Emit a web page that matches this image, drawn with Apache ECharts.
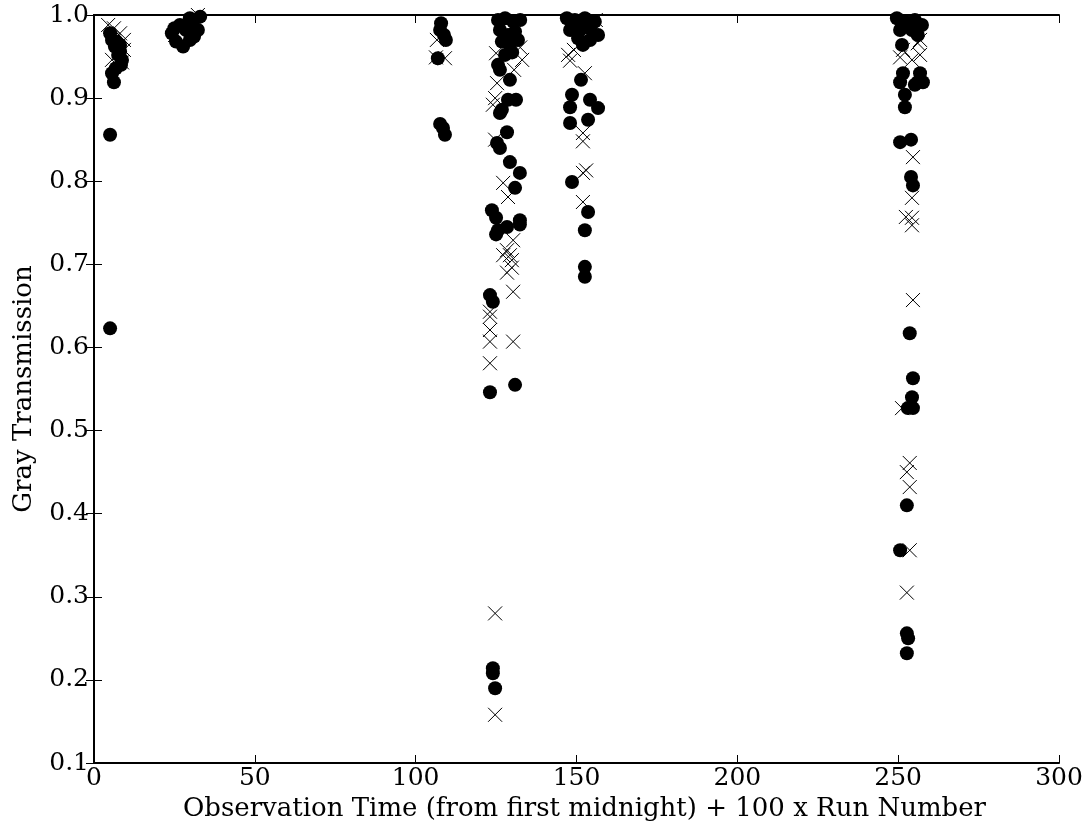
<!DOCTYPE html>
<html>
<head>
<meta charset="utf-8">
<script src="https://cdn.jsdelivr.net/npm/echarts@6/dist/echarts.min.js"></script>
<style>html,body{margin:0;padding:0;background:#fff}#c{width:1091px;height:828px}</style>
</head>
<body>
<div id="c"></div>
<script>
var xTicks = [0, 50, 100, 150, 200, 250, 300];
var yTicks = [0.1, 0.2, 0.3, 0.4, 0.5, 0.6, 0.7, 0.8, 0.9, 1.0];

var circles = [
  [5.0,0.978],[5.6,0.970],[6.5,0.962],[8.1,0.964],[7.5,0.952],[8.7,0.946],[6.8,0.936],[8.1,0.956],
  [5.6,0.930],[6.2,0.919],[5.0,0.856],[5.0,0.623],[7.0,0.968],[8.4,0.940],
  [24.2,0.978],[25.5,0.968],[27.7,0.962],[29.8,0.970],[28.6,0.982],[30.8,0.992],[32.3,0.982],
  [29.8,0.996],[33.0,0.998],[26.7,0.988],[31.1,0.974],[25.0,0.984],
  [107.9,0.990],[107.6,0.982],[108.8,0.976],[109.4,0.970],[106.9,0.948],[107.6,0.869],[108.5,0.864],[109.1,0.856],
  [125.6,0.994],[127.8,0.996],[130.3,0.992],[132.5,0.994],[126.2,0.982],[128.7,0.976],[130.9,0.980],
  [126.8,0.968],[129.3,0.964],[131.8,0.970],[127.8,0.952],[130.0,0.955],[125.6,0.940],[126.2,0.934],
  [129.3,0.922],[131.2,0.898],[128.7,0.898],[126.8,0.886],[126.2,0.882],[128.4,0.859],[125.3,0.846],
  [126.2,0.840],[129.3,0.823],[132.4,0.810],[130.9,0.792],[123.7,0.765],[125.0,0.756],[125.6,0.741],
  [125.0,0.736],[128.4,0.745],[132.4,0.753],[132.4,0.748],[123.1,0.663],[124.0,0.655],[123.1,0.546],
  [130.9,0.555],[124.0,0.214],[124.0,0.208],[124.7,0.190],
  [147.0,0.996],[149.5,0.994],[152.6,0.996],[155.7,0.992],[148.0,0.982],[151.1,0.982],[154.2,0.984],
  [156.7,0.976],[152.0,0.964],[154.2,0.970],[150.5,0.972],[151.4,0.922],[148.6,0.904],[148.0,0.889],
  [154.2,0.898],[156.7,0.888],[153.6,0.874],[148.0,0.870],[148.6,0.799],[153.6,0.763],[152.6,0.741],
  [152.6,0.697],[152.6,0.685],
  [249.6,0.996],[252.1,0.992],[255.2,0.994],[257.4,0.988],[250.6,0.982],[254.3,0.982],[256.1,0.976],
  [251.2,0.964],[251.5,0.930],[250.6,0.919],[256.8,0.930],[256.1,0.919],[257.7,0.919],[255.2,0.916],
  [252.1,0.904],[252.1,0.889],[250.6,0.847],[254.0,0.850],[254.0,0.805],[254.6,0.795],[253.6,0.617],
  [254.6,0.563],[254.3,0.540],[253.0,0.527],[254.6,0.527],[252.7,0.410],[250.6,0.356],[252.7,0.256],
  [253.1,0.250],[252.7,0.232]
];

var crosses = [
  [4.4,0.988],[6.2,0.984],[8.1,0.978],[9.3,0.970],[5.6,0.946],[8.7,0.943],[9.3,0.958],
  [25.2,0.976],[32.3,1.0],
  [106.3,0.949],[109.1,0.948],[106.6,0.970],
  [125.0,0.954],[132.5,0.961],[133.1,0.946],[125.3,0.918],[124.7,0.900],[124.7,0.850],[127.2,0.798],
  [128.7,0.781],[130.3,0.729],[128.4,0.717],[129.3,0.711],[127.2,0.711],[129.9,0.705],[128.4,0.690],
  [129.9,0.696],[130.3,0.667],[123.1,0.643],[123.1,0.637],[123.1,0.621],[123.1,0.607],[130.3,0.607],
  [123.1,0.581],[124.7,0.280],[124.7,0.158],[124.0,0.892],[130.6,0.934],
  [147.4,0.952],[148.0,0.945],[152.6,0.930],[152.0,0.858],[152.0,0.848],[152.0,0.810],[153.0,0.813],
  [152.0,0.775],[156.0,0.994],[149.2,0.958],
  [250.6,0.949],[256.1,0.966],[254.3,0.946],[256.8,0.952],[251.5,0.958],[254.6,0.829],[254.3,0.780],
  [252.4,0.757],[254.3,0.756],[254.3,0.747],[254.6,0.657],[251.2,0.527],[253.6,0.461],[252.7,0.450],
  [253.6,0.432],[253.6,0.356],[252.7,0.305],[256.8,0.970]
];

var font = 'DejaVu Serif';
var chart = echarts.init(document.getElementById('c'), null, {renderer: 'canvas'});
var axisLine = {show: true, lineStyle: {color: '#000', width: 2}};
var tick = {show: true, inside: true, length: 8, lineStyle: {color: '#000', width: 1}};
chart.setOption({
  animation: false,
  backgroundColor: '#fff',
  grid: {left: 94, right: 32, top: 15, bottom: 65, containLabel: false},
  xAxis: [{
    type: 'value', min: 0, max: 300, interval: 50,
    axisLine: axisLine, axisTick: tick, splitLine: {show: false},
    axisLabel: {color: '#000', fontFamily: font, fontSize: 25, margin: 3,
      formatter: function (v) { return xTicks.indexOf(v) >= 0 ? String(v) : ''; }},
    name: 'Observation Time (from first midnight) + 100 x Run Number',
    nameLocation: 'middle', nameGap: 32,
    nameTextStyle: {color: '#000', fontFamily: font, fontSize: 26, padding: [0, 0, 0, 16]}
  }, {
    type: 'value', min: 0, max: 300, interval: 50, position: 'top',
    axisLine: axisLine, axisTick: tick, axisLabel: {show: false}, splitLine: {show: false}
  }],
  yAxis: [{
    type: 'value', min: 0.1, max: 1.0, interval: 0.1,
    axisLine: axisLine, axisTick: tick, splitLine: {show: false},
    axisLabel: {color: '#000', fontFamily: font, fontSize: 25, margin: 5,
      formatter: function (v) { return v.toFixed(1); }},
    name: 'Gray Transmission', nameLocation: 'middle', nameGap: 57,
    nameTextStyle: {color: '#000', fontFamily: font, fontSize: 26}
  }, {
    type: 'value', min: 0.1, max: 1.0, interval: 0.1, position: 'right',
    axisLine: axisLine, axisTick: tick, axisLabel: {show: false}, splitLine: {show: false}
  }],
  series: [{
    type: 'scatter', data: circles, symbol: 'circle', symbolSize: 14,
    itemStyle: {color: '#000', opacity: 1}, clip: true, z: 2
  }, {
    type: 'scatter', data: crosses, symbol: 'path://M0,0L10,10M10,0L0,10', symbolSize: 14,
    itemStyle: {color: 'none', borderColor: '#000', borderWidth: 1, opacity: 1}, clip: true, z: 3
  }]
});
</script>
</body>
</html>
